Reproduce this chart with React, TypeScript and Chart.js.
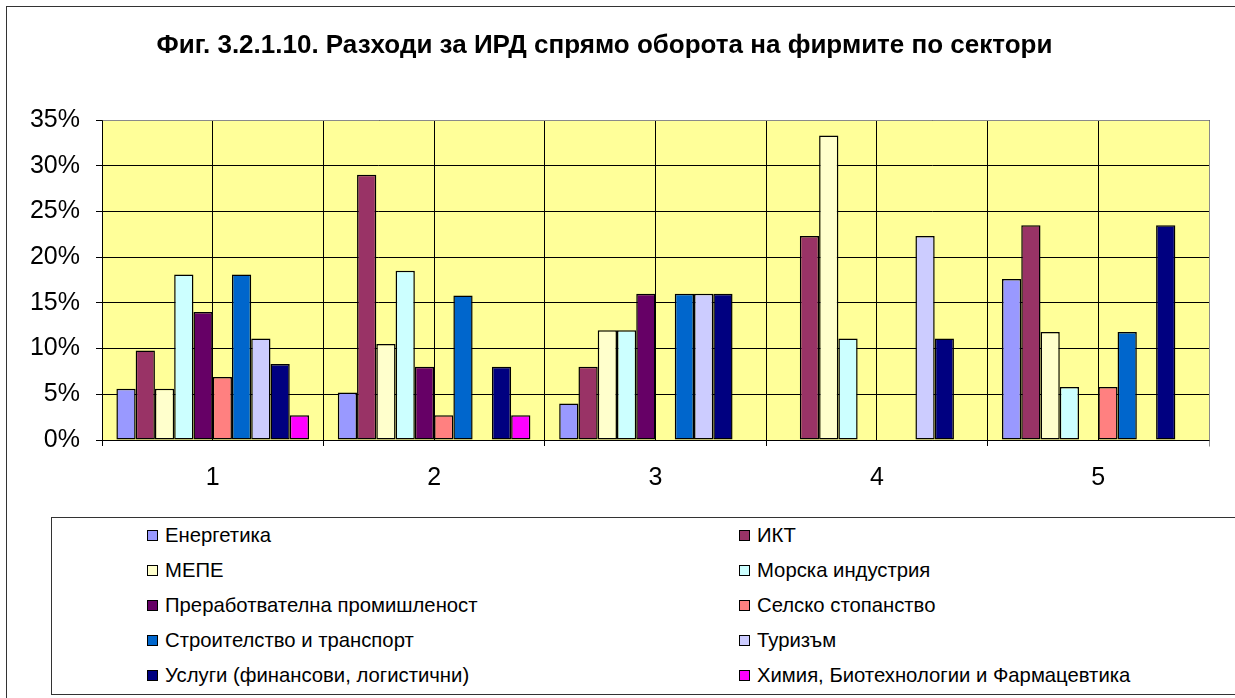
import React, { useEffect, useRef } from "react";
import { Chart, registerables } from "chart.js";

Chart.register(...registerables);

const categories = ["1", "2", "3", "4", "5"];

const seriesNames = [
  "Енергетика",
  "ИКТ",
  "МЕПЕ",
  "Морска индустрия",
  "Преработвателна промишленост",
  "Селско стопанство",
  "Строителство и транспорт",
  "Туризъм",
  "Услуги (финансови, логистични)",
  "Химия, Биотехнологии и Фармацевтика",
];

const seriesColors = [
  "#9999FF",
  "#993366",
  "#FFFFCC",
  "#CCFFFF",
  "#660066",
  "#FF8080",
  "#0066CC",
  "#CCCCFF",
  "#000080",
  "#FF00FF",
];

const energetika = [5.6, 5.2, 4.0, null, 17.6];
const ikt = [9.8, 29.0, 8.0, 22.3, 23.5];
const mepe = [5.6, 10.5, 12.0, 33.3, 11.8];
const morska = [18.1, 18.5, 12.0, 11.1, 5.8];
const prerab = [14.0, 8.0, 16.0, null, null];
const selsko = [6.9, 2.7, null, null, 5.8];
const stroit = [18.1, 15.8, 16.0, null, 11.8];
const turizam = [11.1, null, 16.0, 22.3, null];
const uslugi = [8.3, 8.0, 16.0, 11.1, 23.5];
const himia = [2.7, 2.7, null, null, null];

const seriesValues = [energetika, ikt, mepe, morska, prerab, selsko, stroit, turizam, uslugi, himia];

const yTickMax = 35;
const yTickStep = 5;

const FONT = '"Liberation Sans", Arial, sans-serif';

const plotPlugin = {
  id: "plotDecor",
  beforeDraw(chart: any) {
    const { ctx, chartArea } = chart;
    ctx.save();
    ctx.fillStyle = "#FFFF99";
    ctx.fillRect(chartArea.left, chartArea.top, chartArea.right - chartArea.left, chartArea.bottom - chartArea.top);
    ctx.restore();
  },
  afterDatasetsDraw(chart: any) {
    const { ctx, chartArea } = chart;
    const l = Math.round(chartArea.left) + 0.5;
    const r = Math.round(chartArea.right) + 0.5;
    const t = Math.round(chartArea.top) + 0.5;
    const b = Math.round(chartArea.bottom) + 0.5;
    ctx.save();
    ctx.lineWidth = 1;
    ctx.strokeStyle = "#8a8a8a";
    ctx.beginPath();
    ctx.moveTo(l, t);
    ctx.lineTo(r, t);
    ctx.lineTo(r, b + 6);
    ctx.stroke();
    ctx.strokeStyle = "#000";
    ctx.beginPath();
    ctx.moveTo(l, t);
    ctx.lineTo(l, b);
    ctx.lineTo(r, b);
    ctx.stroke();
    ctx.restore();
  },
};

export default function App() {
  const canvasRef = useRef<HTMLCanvasElement | null>(null);

  useEffect(() => {
    if (!canvasRef.current) return;
    const chart = new Chart(canvasRef.current, {
      type: "bar",
      data: {
        labels: categories,
        datasets: seriesNames.map((name, i) => ({
          label: name,
          data: seriesValues[i],
          backgroundColor: seriesColors[i],
          borderColor: "#000",
          borderWidth: 1.5,
          borderSkipped: false,
          categoryPercentage: 0.87,
          barPercentage: 1.0,
        })),
      },
      options: {
        animation: false,
        responsive: false,
        maintainAspectRatio: false,
        layout: { padding: { left: 0, right: 26, top: 0, bottom: 198 } },
        plugins: {
          legend: { display: false },
          tooltip: { enabled: false },
          title: {
            display: true,
            text: "Фиг. 3.2.1.10. Разходи за ИРД спрямо оборота на фирмите по сектори",
            color: "#000",
            font: { family: FONT, size: 26, weight: "bold" },
            padding: { top: 30.4, bottom: 58.4 },
          },
        },
        scales: {
          x: {
            type: "category",
            offset: true,
            grid: { offset: true, color: "#000", lineWidth: 1, tickLength: 6, drawTicks: true },
            border: { display: false },
            ticks: { color: "#000", font: { family: FONT, size: 25 }, padding: 17, maxRotation: 0 },
            afterFit: (s: any) => {
              s.height = 60;
            },
          },
          x2: {
            type: "category",
            labels: categories,
            position: "top",
            offset: true,
            grid: { offset: false, color: "#000", lineWidth: 1, drawTicks: false },
            border: { display: false },
            ticks: { display: false },
          },
          y: {
            min: 0,
            max: yTickMax,
            grid: { color: "#000", lineWidth: 1, tickLength: 6, drawTicks: true },
            border: { display: false },
            ticks: {
              stepSize: yTickStep,
              color: "#000",
              font: { family: FONT, size: 25 },
              padding: 16,
              callback: (v: any) => v + "%",
            },
            afterFit: (s: any) => {
              s.width = 102;
            },
          },
        },
      } as any,
      plugins: [plotPlugin],
    });
    return () => chart.destroy();
  }, []);

  const rowTop = 535;
  const rowStep = 35;
  const colMarker = [147, 739];

  return (
    <div
      style={{
        position: "absolute",
        left: 0,
        top: 0,
        width: 1235,
        height: 698,
        overflow: "hidden",
        background: "#fff",
        fontFamily: FONT,
      }}
    >
      <div
        style={{
          position: "absolute",
          left: 6,
          top: 6,
          width: 1300,
          height: 800,
          borderLeft: "1px solid #333",
          borderTop: "1px solid #333",
        }}
      />
      <canvas ref={canvasRef} width={1235} height={698} style={{ position: "absolute", left: 0, top: 0 }} />
      <div
        style={{
          position: "absolute",
          left: 51,
          top: 517,
          width: 1300,
          height: 176,
          border: "1px solid #333",
          background: "#fff",
        }}
      />
      {seriesNames.map((name, i) => {
        const col = i % 2;
        const row = Math.floor(i / 2);
        const cy = rowTop + row * rowStep;
        return (
          <div
            key={name}
            style={{
              position: "absolute",
              left: colMarker[col],
              top: cy - 12,
              height: 24,
              display: "flex",
              alignItems: "center",
              whiteSpace: "nowrap",
              fontSize: 20.3,
              color: "#000",
            }}
          >
            <span
              style={{
                display: "inline-block",
                width: 9,
                height: 9,
                border: "1px solid #000",
                background: seriesColors[i],
                marginRight: 7,
              }}
            />
            <span>{name}</span>
          </div>
        );
      })}
    </div>
  );
}
